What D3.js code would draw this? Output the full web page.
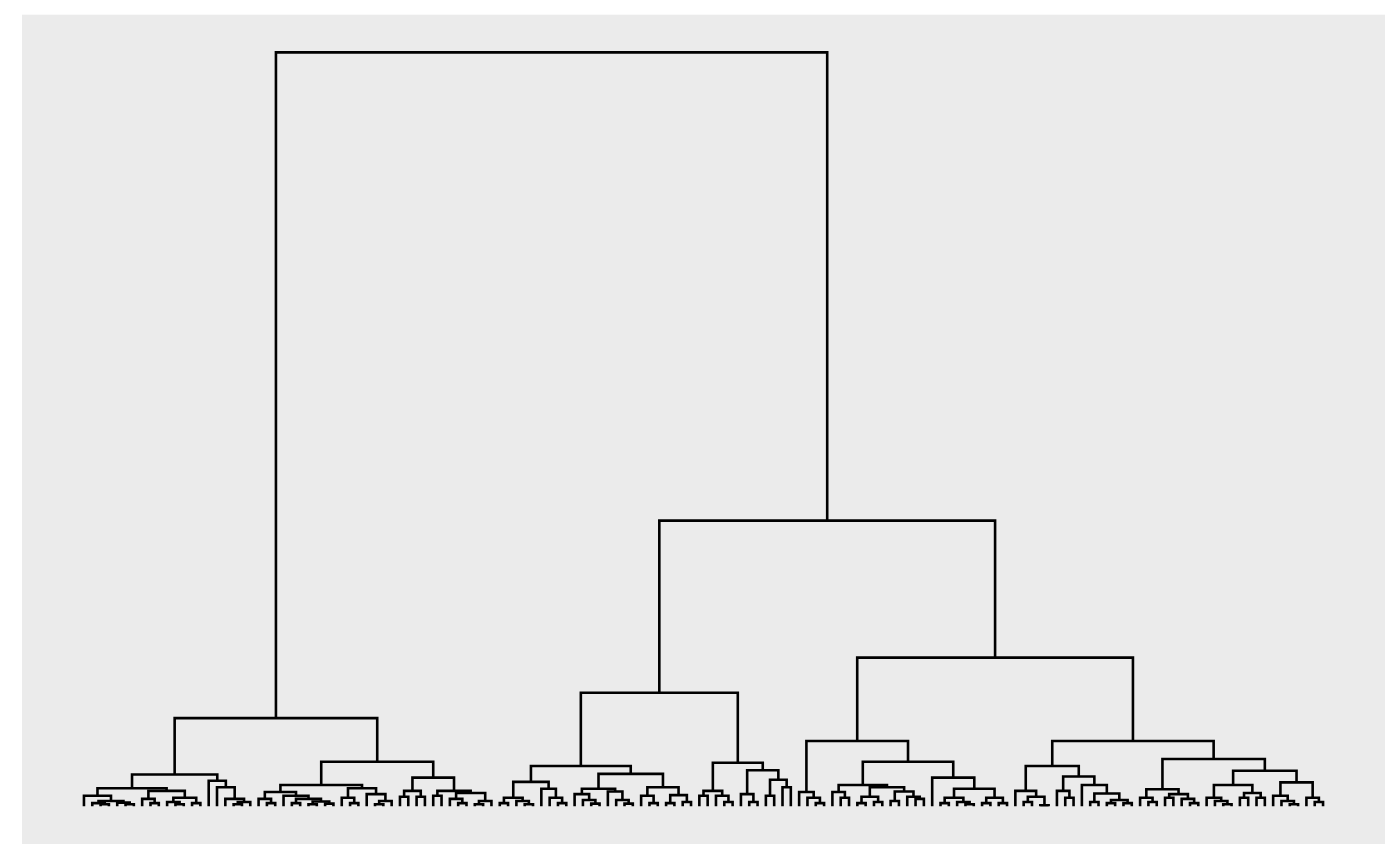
<!DOCTYPE html>
<html>
<head>
<meta charset="utf-8">
<script src="https://cdn.jsdelivr.net/npm/d3@7"></script>
<style>
  html, body { margin: 0; padding: 0; background: #ffffff; }
  svg { display: block; }
</style>
</head>
<body>
<script>
// ---- DATA ----
// Each internal node: [mergeHeight, leftChild, rightChild]; leaves are their order positions (0..149).
const branchA1 = [0.30,
  [0.17,
    [0.10, 0, [0.05, [0.03, 1, [0.02, 2, 3]], [0.035, 4, [0.02, 5, 6]]]],
    [0.145, [0.07, 7, [0.03, 8, 9]], [0.08, [0.04, 10, [0.02, 11, 12]], [0.03, 13, 14]]]
  ],
  [0.24, 15, [0.18, 16, [0.07, 17, [0.04, [0.02, 18, 19], 20]]]]
];

const branchA2 = [0.42,
  [0.20,
    [0.135, [0.07, 21, [0.03, 22, 23]], [0.10, 24, [0.07, [0.03, 25, 26], [0.045, [0.02, 27, 28], [0.025, 29, 30]]]]],
    [0.17, [0.08, 31, [0.03, 32, 33]], [0.115, 34, [0.05, [0.02, 35, 36], 37]]]
  ],
  [0.27,
    [0.145, [0.09, 38, 39], [0.09, 40, 41]],
    [0.145, [0.10, 42, 43], [0.125, [0.07, 44, [0.03, 45, 46]], [0.05, [0.02, 47, 48], 49]]]
  ]
];

const branchB1 = [0.38,
  [0.23,
    [0.08, [0.03, 50, 51], [0.05, 52, [0.02, 53, 54]]],
    [0.165, 55, [0.08, 56, [0.03, 57, 58]]]
  ],
  [0.305,
    [0.165, [0.115, 59, [0.06, 60, [0.025, 61, 62]]], [0.14, 63, [0.06, 64, [0.025, 65, 66]]]],
    [0.18, [0.10, 67, [0.03, 68, 69]], [0.105, [0.03, 70, 71], [0.04, 72, 73]]]
  ]
];

const branchB2 = [0.41,
  [0.145, [0.10, 74, 75], [0.10, 76, [0.04, 77, 78]]],
  [0.34, [0.115, 79, [0.04, 80, 81]], [0.25, [0.10, 82, 83], [0.18, 84, 85]]]
];

const branchC1 = [0.615,
  [0.135, 86, [0.08, 87, [0.03, 88, 89]]],
  [0.42,
    [0.20,
      [0.135, 90, [0.08, 91, 92]],
      [0.18, [0.09, [0.03, 93, 94], [0.04, 95, 96]], [0.14, [0.05, 97, 98], [0.09, 99, [0.07, 100, 101]]]]
    ],
    [0.27, 102, [0.165, [0.08, [0.03, 103, 104], [0.04, 105, [0.02, 106, 107]]], [0.08, [0.03, 108, 109], [0.03, 110, 111]]]]
  ]
];

const branchC2 = [0.615,
  [0.38,
    [0.145, 112, [0.09, [0.04, 113, 114], [0.01, 115, 116]]],
    [0.28,
      [0.145, 117, [0.08, 118, 119]],
      [0.20, 120, [0.12, [0.04, 121, 122], [0.06, [0.03, 123, 124], [0.03, 125, 126]]]]
    ]
  ],
  [0.445,
    [0.16, [0.08, 127, [0.04, 128, 129]], [0.115, [0.08, 130, 131], [0.07, 132, [0.03, 133, 134]]]],
    [0.335,
      [0.20, [0.08, 135, [0.05, 136, [0.02, 137, 138]]], [0.125, [0.08, 139, 140], [0.08, 141, 142]]],
      [0.225, [0.10, 143, [0.05, 144, [0.02, 145, 146]]], [0.08, 147, [0.04, 148, 149]]]
    ]
  ]
];

// heights of the top merges: [root, left group, right group, right-left, right-right]
const topHeights = [7.10, 0.83, 2.69, 1.07, 1.40];
const leafCount = 150;

// ---- BUILD TREE ----
const tree = [topHeights[0],
  [topHeights[1], branchA1, branchA2],
  [topHeights[2],
    [topHeights[3], branchB1, branchB2],
    [topHeights[4], branchC1, branchC2]
  ]
];

// ---- LAYOUT ----
const W = 1400, H = 866;
const panel = { left: 22, right: 1385, top: 14.7, bottom: 844 };

const svg = d3.select("body").append("svg").attr("width", W).attr("height", H);

const xSpan = leafCount - 1;
const xExp = xSpan * 0.05;
const x = d3.scaleLinear()
  .domain([0 - xExp, xSpan + xExp])
  .range([panel.left, panel.right]);

const maxH = topHeights[0];
const y = d3.scaleLinear()
  .domain([-maxH * 0.05, maxH * 1.05])
  .range([panel.bottom, panel.top]);

svg.append("rect")
  .attr("x", panel.left).attr("y", panel.top)
  .attr("width", panel.right - panel.left)
  .attr("height", panel.bottom - panel.top)
  .attr("fill", "#EBEBEB");

const links = [];
function layout(node) {
  if (typeof node === "number") return { x: node, h: 0 };
  const l = layout(node[1]);
  const r = layout(node[2]);
  const h = node[0];
  links.push({ l, r, h });
  return { x: (l.x + r.x) / 2, h };
}
layout(tree);

const g = svg.append("g");
g.selectAll("path.link")
  .data(links)
  .join("path")
  .attr("class", "link")
  .attr("d", d => {
    const xl = x(d.l.x), xr = x(d.r.x);
    return `M${xl},${y(d.l.h)}V${y(d.h)}H${xr}V${y(d.r.h)}`;
  })
  .attr("fill", "none")
  .attr("stroke", "#000")
  .attr("stroke-width", 2.6)
  .attr("stroke-linejoin", "miter")
  .attr("stroke-linecap", "butt");
</script>
</body>
</html>
